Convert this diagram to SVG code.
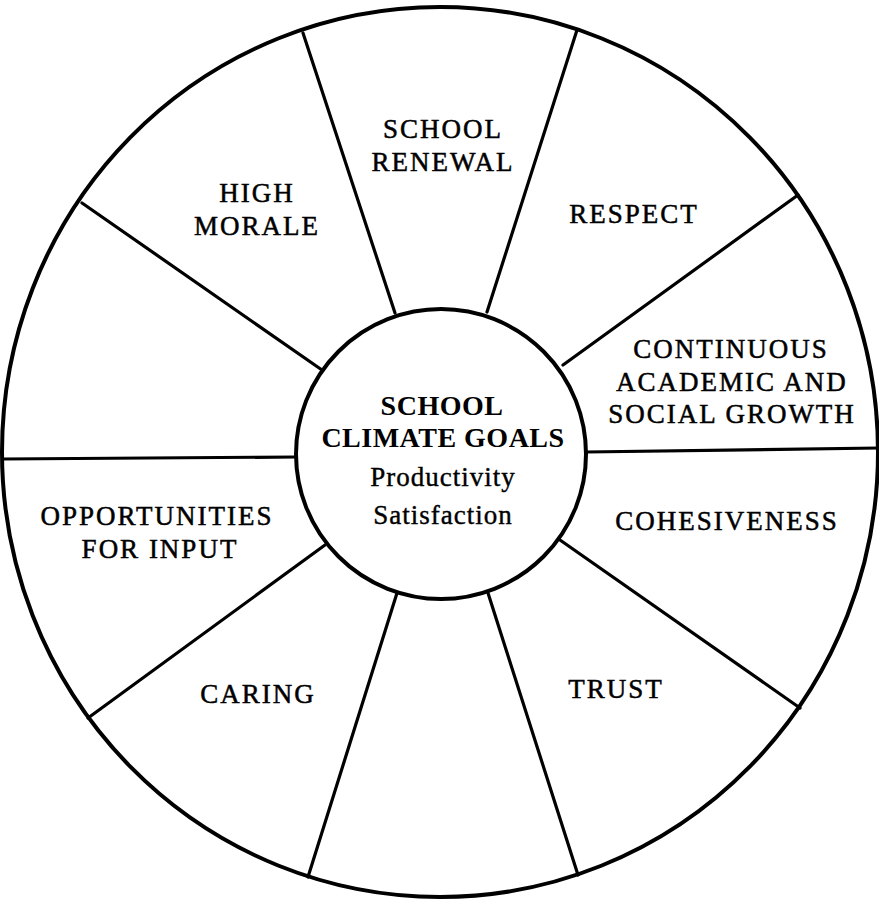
<svg xmlns="http://www.w3.org/2000/svg" width="879" height="900" viewBox="0 0 879 900">
<style>
.ring{fill:#fff;stroke:#000;stroke-width:4}
.spoke{stroke:#000;stroke-width:3.2;stroke-linecap:round;fill:none}
.lbl{font-family:"Liberation Serif","Times New Roman",serif;font-size:27px;letter-spacing:2px;fill:#000;stroke:#000;stroke-width:0.5;text-anchor:middle}
.title{font-family:"Liberation Serif","Times New Roman",serif;font-size:28px;font-weight:bold;letter-spacing:0.5px;fill:#000;text-anchor:middle}
.sub{font-family:"Liberation Serif","Times New Roman",serif;font-size:27px;letter-spacing:1px;fill:#000;stroke:#000;stroke-width:0.4;text-anchor:middle}
</style>
<rect width="879" height="900" fill="#fff"/>
<g id="wheel">
<ellipse class="ring" cx="440" cy="452" rx="438" ry="445"/>
</g>
<g id="connectors">
<line class="spoke" x1="395" y1="313" x2="303" y2="33"/>
<line class="spoke" x1="487" y1="312" x2="577" y2="30"/>
<line class="spoke" x1="563" y1="365" x2="798" y2="195"/>
<line class="spoke" x1="586" y1="452" x2="879" y2="448"/>
<line class="spoke" x1="560" y1="540" x2="800" y2="708"/>
<line class="spoke" x1="488" y1="593" x2="578" y2="875"/>
<line class="spoke" x1="397" y1="593" x2="308" y2="877"/>
<line class="spoke" x1="325" y1="545" x2="88" y2="718"/>
<line class="spoke" x1="3" y1="459" x2="296" y2="457"/>
<line class="spoke" x1="322" y1="370" x2="82" y2="203"/>
</g>
<g id="center">
<circle class="ring" cx="441" cy="454" r="145"/>
<text class="title" x="442" y="415">SCHOOL</text>
<text class="title" x="443" y="447">CLIMATE GOALS</text>
<text class="sub" x="443" y="486">Productivity</text>
<text class="sub" x="443" y="524">Satisfaction</text>
</g>
<g id="school-renewal">
<text class="lbl" x="443" y="138">SCHOOL</text>
<text class="lbl" x="443" y="171">RENEWAL</text>
</g>
<g id="respect">
<text class="lbl" x="634" y="223">RESPECT</text>
</g>
<g id="continuous-growth">
<text class="lbl" x="731" y="358">CONTINUOUS</text>
<text class="lbl" x="732" y="391">ACADEMIC AND</text>
<text class="lbl" x="732" y="423">SOCIAL GROWTH</text>
</g>
<g id="cohesiveness">
<text class="lbl" x="727" y="530">COHESIVENESS</text>
</g>
<g id="trust">
<text class="lbl" x="616" y="698">TRUST</text>
</g>
<g id="caring">
<text class="lbl" x="258" y="703">CARING</text>
</g>
<g id="opportunities">
<text class="lbl" x="157" y="525">OPPORTUNITIES</text>
<text class="lbl" x="160" y="558">FOR INPUT</text>
</g>
<g id="high-morale">
<text class="lbl" x="257" y="202">HIGH</text>
<text class="lbl" x="257" y="235">MORALE</text>
</g>
</svg>
